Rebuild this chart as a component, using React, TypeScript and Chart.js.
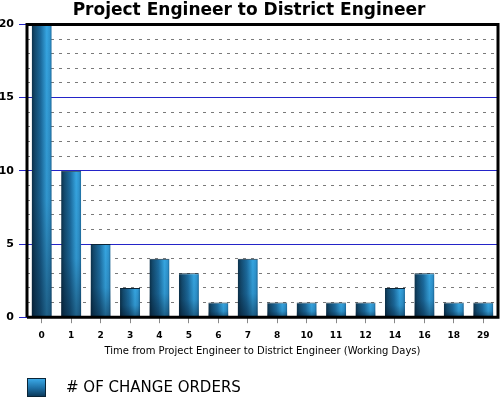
import React, { useEffect, useRef } from "react";
import { Chart, registerables } from "chart.js";

Chart.register(...registerables);

const categories = ["0", "1", "2", "3", "4", "5", "6", "7", "8", "10", "11", "12", "14", "16", "18", "29"];
const changeOrders = [20, 10, 5, 2, 4, 3, 1, 4, 1, 1, 1, 1, 2, 3, 1, 1];
const seriesLabel = "# OF CHANGE ORDERS";
const yMin = 0;
const yMax = 20;
const majorStep = 5;
const minorStep = 1;

const FONT = "'DejaVu Sans', sans-serif";

const barStyler = {
  id: "barStyler",
  beforeDatasetsDraw(chart: any) {
    const ctx = chart.ctx;
    chart.getDatasetMeta(0).data.forEach((el: any) => {
      const left = el.x - el.width / 2;
      const right = el.x + el.width / 2;
      const g = ctx.createLinearGradient(left, 0, right, 0);
      g.addColorStop(0, "#0b3049");
      g.addColorStop(0.15, "#134a6e");
      g.addColorStop(0.45, "#1c6c9f");
      g.addColorStop(0.75, "#36a6e2");
      g.addColorStop(0.9, "#2f95d0");
      g.addColorStop(1, "#1b6a9c");
      el.options = Object.assign({}, el.options, { backgroundColor: g });
    });
  },
  afterDatasetsDraw(chart: any) {
    const ctx = chart.ctx;
    ctx.save();
    chart.getDatasetMeta(0).data.forEach((el: any) => {
      const left = el.x - el.width / 2;
      const top = el.y;
      const bottom = el.base;
      const g = ctx.createLinearGradient(0, top, 0, bottom);
      g.addColorStop(0, "rgba(0,0,0,0)");
      g.addColorStop(0.6, "rgba(0,10,25,0.1)");
      g.addColorStop(1, "rgba(0,10,25,0.45)");
      ctx.fillStyle = g;
      ctx.fillRect(left, top + 1, el.width, bottom - top - 1);
    });
    ctx.restore();
  },
};

const frame = {
  id: "frame",
  afterDraw(chart: any) {
    const { ctx, chartArea } = chart;
    ctx.save();
    ctx.strokeStyle = "#000";
    ctx.lineWidth = 3;
    ctx.beginPath();
    ctx.moveTo(chartArea.left, chartArea.bottom);
    ctx.lineTo(chartArea.left, chartArea.top);
    ctx.lineTo(chartArea.right, chartArea.top);
    ctx.lineTo(chartArea.right, chartArea.bottom);
    ctx.lineTo(chartArea.left, chartArea.bottom);
    ctx.stroke();
    ctx.restore();
  },
};

export default function App() {
  const ref = useRef<HTMLCanvasElement>(null);
  useEffect(() => {
    const chart = new Chart(ref.current as HTMLCanvasElement, {
      type: "bar",
      data: {
        labels: categories,
        datasets: [
          {
            label: seriesLabel,
            data: changeOrders,
            backgroundColor: () => "#2a87c0",
            borderColor: "#0a2436",
            borderWidth: { top: 1, left: 0, right: 0, bottom: 0 },
            borderSkipped: false,
            barPercentage: 0.68,
            categoryPercentage: 1,
          },
        ],
      },
      plugins: [barStyler, frame],
      options: {
        responsive: false,
        animation: false,
        layout: { padding: { left: 0, right: 2, top: 0, bottom: 42 } },
        plugins: {
          title: {
            display: true,
            text: "Project Engineer to District Engineer",
            color: "#000",
            font: { family: FONT, size: 17, weight: "bold" },
            padding: { top: 0, bottom: 4 },
          },
          legend: { display: false },
          tooltip: { enabled: false },
        },
        scales: {
          x: {
            offset: true,
            grid: {
              offset: false,
              drawOnChartArea: false,
              drawTicks: true,
              tickLength: 6,
              color: "#888",
            },
            border: { display: false },
            ticks: {
              color: "#000",
              font: { family: FONT, size: 9, weight: "bold" },
              padding: 7,
              maxRotation: 0,
              autoSkip: false,
            },
            title: {
              display: true,
              text: "Time from Project Engineer to District Engineer (Working Days)",
              color: "#000",
              font: { family: FONT, size: 10 },
              padding: { top: -3, bottom: 0 },
            },
          },
          y: {
            min: yMin,
            max: yMax,
            afterFit: (scale: any) => {
              scale.width = 27;
            },
            ticks: {
              stepSize: majorStep,
              color: "#000",
              font: { family: FONT, size: 11, weight: "bold" },
              padding: 5,
            },
            grid: {
              color: (c: any) => (c.tick && (c.tick.value === yMin || c.tick.value === yMax) ? "rgba(0,0,0,0)" : "#2424c8"),
              tickColor: "#2424c8",
              tickLength: 8,
              lineWidth: 1,
            },
            border: { display: false },
          },
          y2: {
            position: "right",
            min: yMin,
            max: yMax,
            ticks: { stepSize: minorStep, display: false },
            grid: {
              drawTicks: false,
              color: (c: any) => (c.tick && c.tick.value % majorStep === 0 ? "rgba(0,0,0,0)" : "#7a7a7a"),
              lineWidth: 1,
            },
            border: { display: false, dash: [3, 5] },
          },
        },
      },
    });
    return () => chart.destroy();
  }, []);
  return (
    <div style={{ position: "fixed", left: 0, top: 0, width: 500, height: 399, background: "#fff" }}>
      <canvas ref={ref} width={500} height={399} style={{ display: "block" }} />
      <div
        style={{
          position: "absolute",
          left: 27,
          top: 378,
          display: "flex",
          alignItems: "center",
          fontFamily: FONT,
          fontSize: 15,
          color: "#000",
          lineHeight: "19px",
        }}
      >
        <span
          style={{
            display: "inline-block",
            width: 17,
            height: 17,
            border: "1px solid #0a2436",
            background: "linear-gradient(to bottom, #3aa8e6, #1d6ea3 55%, #0c3b5c)",
            marginRight: 20,
          }}
        />
        <span>{seriesLabel}</span>
      </div>
    </div>
  );
}
